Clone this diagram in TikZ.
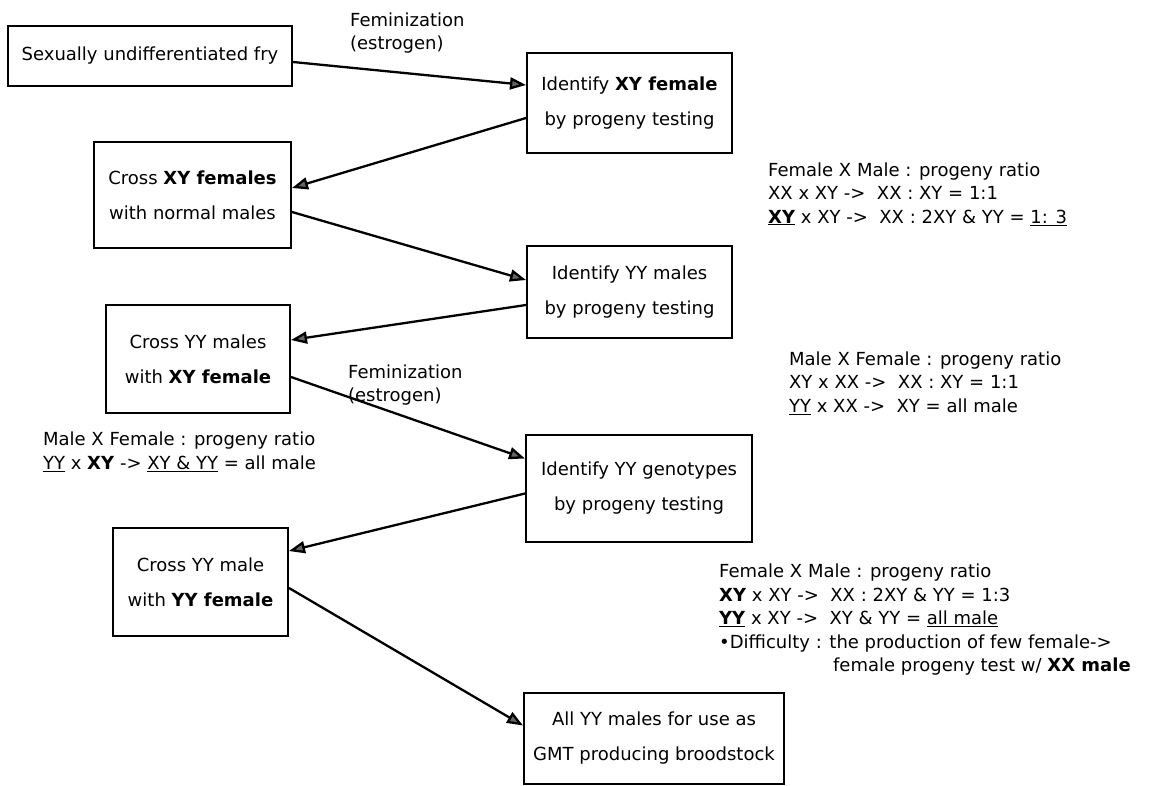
\documentclass[tikz,border=0pt]{standalone}
\usepackage{fontspec}
\setmainfont{DejaVu Sans}
\usetikzlibrary{arrows.meta}

\begin{document}
\begin{tikzpicture}[x=1pt, y=-1pt, line width=2.3pt, >={Triangle[length=16pt,width=12pt,fill=black!60]},
box/.style={draw, line width=2pt, align=center, inner sep=0pt, font=\fontsize{18}{35}\selectfont},
note/.style={anchor=west, align=left, inner sep=0pt, font=\fontsize{18}{23.5}\selectfont}]
\useasboundingbox (0,0) rectangle (1152,786);
\node[box, minimum width=284pt, minimum height=60pt] (fry) at (150,56) {Sexually undifferentiated fry};
\node[box, minimum width=205pt, minimum height=100pt] (xyfemale) at (629.5,103) {Identify \textbf{XY female}\\by progeny testing};
\node[box, minimum width=197pt, minimum height=106pt] (crossxy) at (192.5,195) {Cross \textbf{XY females}\\with normal males};
\node[box, minimum width=205pt, minimum height=92pt] (yymales) at (629.5,292) {Identify YY males\\by progeny testing};
\node[box, minimum width=184pt, minimum height=108pt] (crossyy) at (198,359) {Cross YY males\\with \textbf{XY female}};
\node[box, minimum width=226pt, minimum height=107pt] (yygeno) at (639,488.5) {Identify YY genotypes\\by progeny testing};
\node[box, minimum width=175pt, minimum height=108pt] (crossyym) at (200.5,582) {Cross YY male\\with \textbf{YY female}};
\node[box, minimum width=260pt, minimum height=91pt] (brood) at (654,738.5) {All YY males for use as\\GMT producing broodstock};
\node[note] (fem1) at (349,33) {Feminization\\(estrogen)};
\node[note] (fem2) at (347,385) {Feminization\\(estrogen)};
\node[note] (ratioA) at (767,194) {Female X Male : progeny ratio\\XX x XY ->~ XX : XY = 1:1\\\underline{\textbf{XY}} x XY ->~ XX : 2XY \& YY = \underline{1: 3}};
\node[note] (ratioB) at (788,383) {Male X Female : progeny ratio\\XY x XX ->~ XX : XY = 1:1\\\underline{YY} x XX ->~ XY = all male};
\node[note] (ratioC) at (42,452) {Male X Female : progeny ratio\\\underline{YY} x \textbf{XY} -> \underline{XY \& YY} = all male};
\node[note] (ratioD) at (718,620) {Female X Male : progeny ratio\\\textbf{XY} x XY ->~ XX : 2XY \& YY = 1:3\\\underline{\textbf{YY}} x XY ->~ XY \& YY = \underline{all male}\\•Difficulty : the production of few female->\\\hspace*{114pt}female progeny test w/ \textbf{XX male}};
\draw[->] ([yshift=-6pt]fry.east) -- ([yshift=18pt]xyfemale.west);
\draw[->] ([yshift=-15pt]xyfemale.west) -- ([yshift=7pt]crossxy.east);
\draw[->] ([yshift=-17pt]crossxy.east) -- ([yshift=12pt]yymales.west);
\draw[->] ([yshift=-13pt]yymales.west) -- ([yshift=19pt]crossyy.east);
\draw[->] ([yshift=-18pt]crossyy.east) -- ([yshift=30pt]yygeno.west);
\draw[->] ([yshift=-5pt]yygeno.west) -- ([yshift=31pt]crossyym.east);
\draw[->] ([yshift=-6pt]crossyym.east) -- ([yshift=13pt]brood.west);
\end{tikzpicture}
\end{document}
